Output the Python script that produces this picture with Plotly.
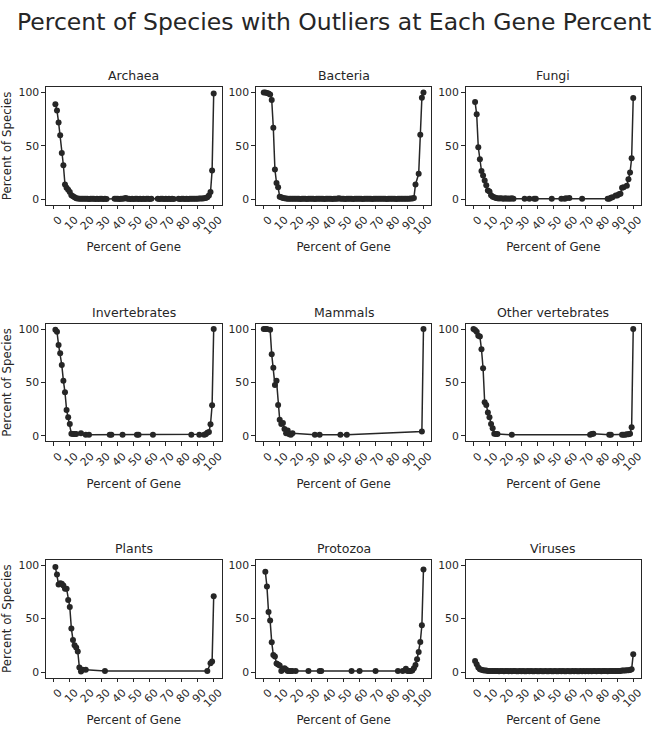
import plotly.graph_objects as go

# ---------------- data ----------------
titles = ["Archaea", "Bacteria", "Fungi",
          "Invertebrates", "Mammals", "Other vertebrates",
          "Plants", "Protozoa", "Viruses"]

archaea_x = list(range(1, 34)) + list(range(38, 62)) + list(range(65, 76)) + list(range(78, 101))
archaea_y = [89, 83, 72, 60, 43.5, 32, 14, 11, 9, 7, 4, 3,
             2, 1.2, 1, 0.8, 0.8, 0.6, 0.8, 0.6, 0.8, 0.5, 0.6, 0.8, 0.6, 0.5, 0.6, 0.5, 0.6, 0.8, 0.5, 0.6, 0.5,
             0.6, 0.8, 0.6, 0.5, 0.8, 0.6, 1.0, 1.5, 0.8, 0.6, 0.5, 0.6, 0.5, 0.8, 0.6, 0.5, 0.6, 0.5, 0.6, 0.5, 0.8, 0.6, 0.5, 0.6,
             0.6, 0.5, 0.8, 0.6, 0.5, 0.6, 0.5, 0.6, 0.5, 0.6, 0.5,
             0.6, 0.5, 0.6, 0.8, 0.5, 0.6, 0.5, 0.6, 0.8, 0.6, 0.8, 0.6, 0.8, 1.0, 1.0, 1.0, 1.2, 1.5, 2, 3.7, 7, 27, 99]

bacteria_x = list(range(0, 96)) + [97, 98, 99, 100]
bacteria_y = [100, 100, 99.5, 99, 98, 93, 67, 28, 15.5, 11.5, 2.5, 2, 1.5, 1.2,
              1.0, 0.8, 0.8, 0.6, 0.8, 0.6, 0.6, 0.8, 0.6, 0.5,
              0.6, 0.8, 0.6, 0.5, 0.6, 0.6, 0.8, 0.6, 0.5, 0.6,
              0.6, 0.8, 0.6, 0.6, 0.5, 0.6, 0.8, 0.6, 0.6, 0.5,
              0.6, 0.6, 0.8, 1.2, 0.8, 0.6, 0.6, 0.5, 0.6, 0.6,
              0.8, 0.6, 0.5, 0.6, 0.6, 0.8, 0.6, 0.6, 0.5, 0.6,
              0.6, 0.8, 0.6, 0.6, 0.5, 0.6, 0.6, 0.8, 0.6, 0.6,
              0.8, 0.6, 0.6, 0.5, 0.6, 0.6, 0.8, 0.6, 0.6, 0.5,
              0.6, 0.8, 0.6, 0.6, 0.8, 0.6, 0.8, 0.8, 1.0, 1.0,
              1.5, 14, 24, 60.5, 95, 100]

fungi_x = list(range(1, 26)) + [32, 35, 38, 39, 49, 55, 57, 58, 60, 68,
                                84, 85, 86, 87, 89, 90, 91, 92, 93, 94,
                                96, 97, 98, 99, 100]
fungi_y = [91, 79.5, 48.8, 37.6, 26.7, 22.4, 17.7, 13.3, 8.4, 7.5, 4, 2.5, 2, 1.5, 1.2,
           1, 1.2, 1, 0.8, 1.2, 0.8, 1, 0.8, 1.2, 0.8,
           0.8, 0.8, 0.8, 0.8, 0.8, 0.8, 0.8, 1.2, 1.5, 0.8,
           0.6, 0.6, 1.6, 2.2, 3.8, 3.8, 4.8, 5.4, 10.9, 11.5,
           12.8, 18.9, 25.2, 38.5, 94.8]

invertebrates_x = list(range(1, 15)) + [17, 20, 22, 35, 36, 43, 52, 53, 62, 86, 91,
                                        94, 95, 96, 97, 98, 99, 100]
invertebrates_y = [99.3, 97.5, 85, 77.3, 66.4, 51.7, 40.8, 24.3, 17.5, 11.2, 1.9, 1.7, 1.7, 1.7,
                   2.5, 1, 1, 1, 1, 1, 1, 1, 1, 1, 1,
                   1, 1.5, 3, 3.5, 10.9, 28.7, 100]

mammals_x = [0, 1, 2, 4, 5, 6, 7, 8, 9, 10, 11, 12, 13, 14, 15, 16, 17, 18, 32, 35, 48, 52, 99, 100]
mammals_y = [100, 100, 100, 99.4, 76.3, 63.8, 47.7, 51.7, 29, 15, 11.2, 12, 6.5, 2.5, 5, 1.5, 1, 2.5,
             1, 1, 1, 1, 4, 100]

othervert_x = list(range(0, 16)) + [24, 73, 74, 75, 85, 86, 93, 94, 95, 96, 97, 98, 99, 100]
othervert_y = [100, 99, 97.5, 93.8, 93, 81, 63.3, 31.5, 29, 21.8, 17.5, 11.2, 7.2, 2, 1.8, 1.8,
               1, 1, 1.8, 2, 1, 1, 1, 1, 1, 1.5, 1.5, 2, 8, 100]

plants_x = list(range(1, 19)) + [20, 32, 96, 98, 99, 100]
plants_y = [98.2, 91.3, 82, 83, 82.5, 81, 78, 78, 67.4, 60.9, 40.7, 30.1, 25.2, 23, 19.3, 4.4, 0.7, 2.2,
            2.2, 1, 1, 8.4, 10, 71]

protozoa_x = list(range(1, 19)) + [20, 28, 35, 36, 55, 60, 70, 84, 87,
                                   89, 90, 91, 92, 93,
                                   94, 95, 96, 97, 98, 99, 100]
protozoa_y = [93.8, 80.1, 56.2, 48.2, 28, 16.1, 14.6, 8.1, 7.2, 6.3, 1.2, 2.5, 3.7, 2.5, 1.2, 1.2, 1.2, 1.2,
              1.2, 1.2, 1.2, 1.2, 1.2, 1.2, 1.2, 1.2, 1.2,
              3.1, 1.2, 1.2, 1.2, 1.5,
              3.7, 6.8, 12.1, 18.9, 28.2, 43.8, 96]

viruses_x = list(range(1, 101))
viruses_y = [10.5, 7.5, 4.4, 2.8, 2.2, 1.8, 1.5, 1.5, 1.2, 1.2,
             1.2, 1.0, 1.0, 1.2, 1.0, 0.8, 1.0, 1.0, 0.8, 1.0,
             1.0, 0.8, 1.0, 0.8, 1.0, 1.0, 0.8, 0.8, 1.0, 0.8,
             1.0, 0.8, 0.8, 1.0, 0.8, 1.0, 0.8, 0.8, 1.0, 0.8,
             0.8, 1.0, 0.8, 0.8, 1.0, 0.8, 0.8, 1.0, 0.8, 0.8,
             1.0, 0.8, 0.8, 1.0, 0.8, 1.0, 0.8, 0.8, 1.0, 0.8,
             0.8, 1.0, 0.8, 1.0, 0.8, 0.8, 1.0, 0.8, 1.0, 0.8,
             1.0, 0.8, 1.0, 0.8, 1.0, 1.0, 0.8, 1.0, 1.0, 0.8,
             1.0, 1.0, 1.0, 0.8, 1.0, 1.0, 1.2, 1.0, 1.2, 1.2,
             1.2, 1.2, 1.5, 1.5, 1.5, 1.8, 1.8, 2, 2.8, 16.8]

series_x = [archaea_x, bacteria_x, fungi_x, invertebrates_x, mammals_x,
            othervert_x, plants_x, protozoa_x, viruses_x]
series_y = [archaea_y, bacteria_y, fungi_y, invertebrates_y, mammals_y,
            othervert_y, plants_y, protozoa_y, viruses_y]

x_ticks = [0, 10, 20, 30, 40, 50, 60, 70, 80, 90, 100]
y_ticks = [0, 50, 100]
main_title = "Percent of Species with Outliers at Each Gene Percent"
x_label = "Percent of Gene"
y_label = "Percent of Species"

# ---------------- layout geometry ----------------
W, H = 671, 731
col_px = [(46.0, 222.7), (256.9, 433.4), (467.6, 644.1)]
row_px = [(86.3, 204.4), (323.6, 441.4), (560.3, 678.4)]
INK = "#262626"
FONT = "DejaVu Sans"

fig = go.Figure()
annotations = []
for i in range(9):
    r, c = divmod(i, 3)
    n = i + 1
    xa = "x" if n == 1 else f"x{n}"
    ya = "y" if n == 1 else f"y{n}"
    fig.add_trace(go.Scatter(
        x=series_x[i], y=series_y[i], mode="lines+markers",
        line=dict(color=INK, width=1.5),
        marker=dict(color=INK, size=6),
        xaxis=xa, yaxis=ya, showlegend=False))
    xd = [col_px[c][0] / W, col_px[c][1] / W]
    yd = [1 - row_px[r][1] / H, 1 - row_px[r][0] / H]
    common = dict(showline=True, mirror=True, linecolor=INK, linewidth=1,
                  ticks="outside", ticklen=3.5, tickwidth=1, tickcolor=INK,
                  showgrid=False, zeroline=False,
                  tickfont=dict(family=FONT, size=10.8, color=INK))
    fig.layout[f"xaxis{'' if n == 1 else n}"] = dict(
        domain=xd, anchor=ya, range=[-5, 105],
        tickmode="array", tickvals=x_ticks, ticktext=[str(v) for v in x_ticks],
        tickangle=-45, ticklabelshift=5,
        title=dict(text=x_label, font=dict(family=FONT, size=11.8, color=INK), standoff=6),
        **common)
    ydict = dict(domain=yd, anchor=xa, range=[-5, 105],
                 tickmode="array", tickvals=y_ticks, ticktext=[str(v) for v in y_ticks],
                 **common)
    if c == 0:
        ydict["title"] = dict(text=y_label, font=dict(family=FONT, size=11.8, color=INK), standoff=4)
    fig.layout[f"yaxis{'' if n == 1 else n}"] = ydict
    annotations.append(dict(
        text=titles[i], xref="paper", yref="paper",
        x=(xd[0] + xd[1]) / 2, y=yd[1], xanchor="center", yanchor="bottom",
        yshift=2, showarrow=False, font=dict(family=FONT, size=12.5, color=INK)))

annotations.append(dict(
    text=main_title, xref="paper", yref="paper", x=0.5, y=1 - 5 / H,
    xanchor="center", yanchor="top", showarrow=False,
    font=dict(family=FONT, size=23.5, color=INK)))

fig.update_layout(
    width=W, height=H, margin=dict(l=0, r=0, t=0, b=0),
    paper_bgcolor="white", plot_bgcolor="white",
    annotations=annotations, showlegend=False)

fig.write_html("out.html")
